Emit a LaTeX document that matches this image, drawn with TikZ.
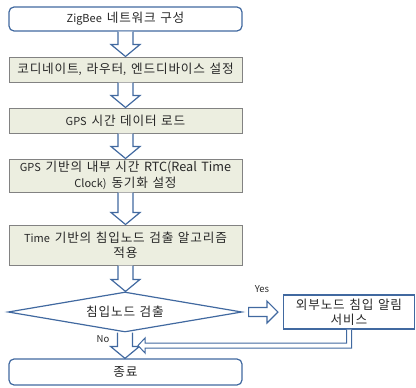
\documentclass[tikz,border=0pt]{standalone}
\usepackage{fontspec}
\setmainfont{Noto Sans CJK KR}[WordSpace=2]
\newfontface\hgfont{Noto Sans CJK KR}[Scale=1.15,WordSpace=1.6]
\usetikzlibrary{shapes.geometric,calc}
\XeTeXinterchartokenstate=1
\newXeTeXintercharclass\hangulcls
\newcount\hgc \hgc="AC00
\loop \XeTeXcharclass\hgc=\hangulcls \advance\hgc by 1 \ifnum\hgc<"D7A4 \repeat
\XeTeXinterchartoks 0 \hangulcls = {\hgfont}
\XeTeXinterchartoks 4095 \hangulcls = {\hgfont}
\XeTeXinterchartoks \hangulcls 0 = {\normalfont}
\XeTeXinterchartoks\hangulcls\hangulcls={\kern0.8pt}
\definecolor{bblue}{RGB}{65,105,160}
\definecolor{bfill}{RGB}{236,238,224}
\definecolor{bgray}{RGB}{130,130,130}
\definecolor{txt}{RGB}{40,40,40}
\begin{document}
\begin{tikzpicture}[x=1pt,y=-1pt,
  every node/.style={font=\fontsize{11}{15.5}\selectfont, text=txt, inner sep=0pt, align=center},
  roundbox/.style={draw=bblue, line width=1.2pt, rounded corners=5pt, fill=white, minimum width=233pt},
  procbox/.style={draw=bgray, line width=1pt, fill=bfill, minimum width=233pt},
  sidebox/.style={draw=bblue, line width=1.2pt, fill=white, minimum width=131pt, minimum height=34pt},
  decision/.style={diamond, aspect=5.85, draw=bblue, line width=1.2pt, fill=white, minimum width=234pt, minimum height=40pt},
  barrow/.style={draw=bblue, line width=1.2pt, fill=white, line join=miter},
  thinarrow/.style={draw=bblue, line width=1pt, fill=white, line join=miter},
  lab/.style={font=\fontsize{9.5}{11}\selectfont}
]
\useasboundingbox (0,0) rectangle (416,388);
\newcommand{\vblock}[2]{\path[barrow] let \p1=(#1.south), \p2=(#2.north) in
  (\x1-7.5pt,\y1) -- (\x1-7.5pt,\y2+12pt) -- (\x1-14.5pt,\y2+12pt) -- (\x1,\y2) --
  (\x1+14.5pt,\y2+12pt) -- (\x1+7.5pt,\y2+12pt) -- (\x1+7.5pt,\y1);}

\node[roundbox, minimum height=24pt] (n1) at (125.5,19) {ZigBee 네트워크 구성};
\node[procbox, minimum height=25pt] (n2) at (125.5,69.5) {코디네이트, 라우터, 엔드디바이스 설정};
\node[procbox, minimum height=25pt] (n3) at (125.5,120.5) {GPS 시간 데이터 로드};
\node[procbox, minimum height=33pt] (n4) at (125.5,175.5) {GPS 기반의 내부 시간 RTC(Real Time\\Clock) 동기화 설정};
\node[procbox, minimum height=40pt] (n5) at (125.5,245) {Time 기반의 침입노드 검출 알고리즘\\적용};
\node[decision] (dec) at (125,312) {침입노드 검출};
\node[sidebox] (rbox) at (349,312) {외부노드 침입 알림\\서비스};
\node[roundbox, minimum height=26pt] (end) at (125.5,372) {종료};
\coordinate (ret) at (138,345.5);

\vblock{n1}{n2}
\vblock{n2}{n3}
\vblock{n3}{n4}
\vblock{n4}{n5}
\vblock{n5}{dec}
\vblock{dec}{end}

\path[barrow] let \p1=(dec.east), \p2=(rbox.west) in
  (\x1+6pt,\y1+4.5pt) -- (\x2-16pt,\y1+4.5pt) -- (\x2-16pt,\y1+11pt) -- (\x2-5pt,\y1) --
  (\x2-16pt,\y1-11pt) -- (\x2-16pt,\y1-4.5pt) -- (\x1+6pt,\y1-4.5pt) -- cycle;

\path[thinarrow] let \p1=(rbox.south), \p2=(ret) in
  (\x1-2.5pt,\y1) -- (\x1-2.5pt,\y2+2.5pt) -- (\x2+7pt,\y2+2.5pt) -- (\x2+7pt,\y2+7.5pt) --
  (\x2,\y2) -- (\x2+7pt,\y2-7.5pt) -- (\x2+7pt,\y2-2.5pt) -- (\x1+2.5pt,\y2-2.5pt) -- (\x1+2.5pt,\y1);

\node[lab] (yes) at (262,289) {Yes};
\node[lab] (no) at (103,339) {No};
\end{tikzpicture}
\end{document}
